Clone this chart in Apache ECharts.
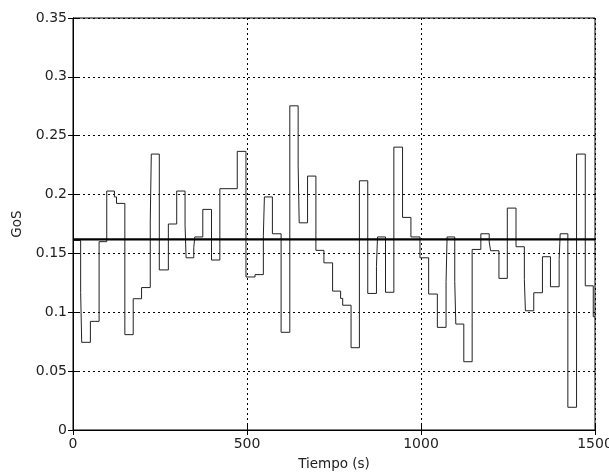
<!DOCTYPE html>
<html>
<head>
<meta charset="utf-8">
<script src="https://cdn.jsdelivr.net/npm/echarts@6/dist/echarts.min.js"></script>
<style>
html,body{margin:0;padding:0;background:#fff;}
#chart{width:609px;height:473px;}
</style>
</head>
<body>
<div id="chart"></div>
<script>
// Step change times (s) and GoS value held from each time until the next
const times = [0, 22, 25, 50, 75, 97, 119, 125, 149, 173, 197, 222, 225, 248, 274, 298, 322, 325, 347, 350,
  373, 398, 422, 472, 497, 523, 547, 550, 573, 598, 623, 647, 650, 674, 698, 721, 746, 769, 775, 799,
  823, 847, 872, 875, 898, 922, 947, 971, 997, 1022, 1047, 1072, 1075, 1097, 1100, 1123, 1147, 1172, 1196, 1200,
  1224, 1248, 1273, 1297, 1300, 1324, 1349, 1372, 1397, 1400, 1422, 1447, 1472, 1495, 1500];
const gosValues = [0.161, 0.117, 0.0745, 0.0923, 0.160, 0.203, 0.198, 0.1925, 0.081, 0.1115, 0.121, 0.1775, 0.2344, 0.136, 0.175, 0.203, 0.174, 0.1463, 0.155, 0.164,
  0.1874, 0.1444, 0.205, 0.2367, 0.130, 0.132, 0.165, 0.198, 0.1667, 0.083, 0.2754, 0.225, 0.176, 0.2157, 0.1526, 0.142, 0.118, 0.1118, 0.106, 0.0699,
  0.2117, 0.116, 0.139, 0.164, 0.117, 0.2403, 0.1806, 0.164, 0.1463, 0.1155, 0.0872, 0.126, 0.164, 0.126, 0.090, 0.058, 0.1534, 0.1667, 0.1596, 0.1523,
  0.1288, 0.1885, 0.1557, 0.128, 0.1013, 0.1166, 0.1472, 0.1217, 0.145, 0.1667, 0.0193, 0.2344, 0.1225, 0.0962, 0.0962];
const meanGoS = 0.162;
const xRange = [0, 1500];
const yRange = [0, 0.35];
const xTickStep = 500;
const yTickStep = 0.05;

const stepData = times.map((t, i) => [t, gosValues[i]]);
const meanData = xRange.map(t => [t, meanGoS]);

const font = 'DejaVu Sans, sans-serif';
const gridLine = {show: true, lineStyle: {color: '#000', width: 1, type: [2, 3]}};
const labelStyle = {color: '#222', fontSize: 14, fontFamily: font};

const chart = echarts.init(document.getElementById('chart'), null, {renderer: 'canvas'});
chart.setOption({
  animation: false,
  backgroundColor: '#fff',
  grid: {left: 73, right: 14, top: 18, bottom: 43, show: true, borderColor: '#000', borderWidth: 1,
    containLabel: false, outerBoundsMode: 'none'},
  xAxis: [{
    type: 'value', min: xRange[0], max: xRange[1], interval: xTickStep,
    name: 'Tiempo (s)', nameLocation: 'middle', nameGap: 27,
    nameTextStyle: {color: '#222', fontSize: 13.5, fontFamily: font},
    axisLine: {show: true, onZero: false, lineStyle: {color: '#000', width: 1}},
    axisTick: {show: true, inside: true, length: 5, lineStyle: {color: '#000'}},
    axisLabel: Object.assign({margin: 7, formatter: v => String(v)}, labelStyle),
    splitLine: gridLine
  }, {
    type: 'value', position: 'top', min: xRange[0], max: xRange[1], interval: xTickStep,
    axisLine: {show: true, lineStyle: {color: '#000', width: 1}},
    axisTick: {show: true, inside: true, length: 5, lineStyle: {color: '#000'}},
    axisLabel: {show: false}, splitLine: {show: false}
  }],
  yAxis: [{
    type: 'value', min: yRange[0], max: yRange[1], interval: yTickStep,
    name: 'GoS', nameLocation: 'middle', nameGap: 47, nameRotate: 90,
    nameTextStyle: {color: '#222', fontSize: 13.5, fontFamily: font},
    axisLine: {show: true, onZero: false, lineStyle: {color: '#000', width: 1}},
    axisTick: {show: true, inside: true, length: 5, lineStyle: {color: '#000'}},
    axisLabel: Object.assign({margin: 6, formatter: v => String(+v.toFixed(2))}, labelStyle),
    splitLine: gridLine
  }, {
    type: 'value', position: 'right', min: yRange[0], max: yRange[1], interval: yTickStep,
    axisLine: {show: true, lineStyle: {color: '#000', width: 1}},
    axisTick: {show: true, inside: true, length: 5, lineStyle: {color: '#000'}},
    axisLabel: {show: false}, splitLine: {show: false}
  }],
  series: [{
    type: 'line', step: 'end', data: stepData, showSymbol: false,
    lineStyle: {color: '#222', width: 1}, z: 3
  }, {
    type: 'line', data: meanData, showSymbol: false,
    lineStyle: {color: '#000', width: 2.2}, z: 4
  }]
});
</script>
</body>
</html>
